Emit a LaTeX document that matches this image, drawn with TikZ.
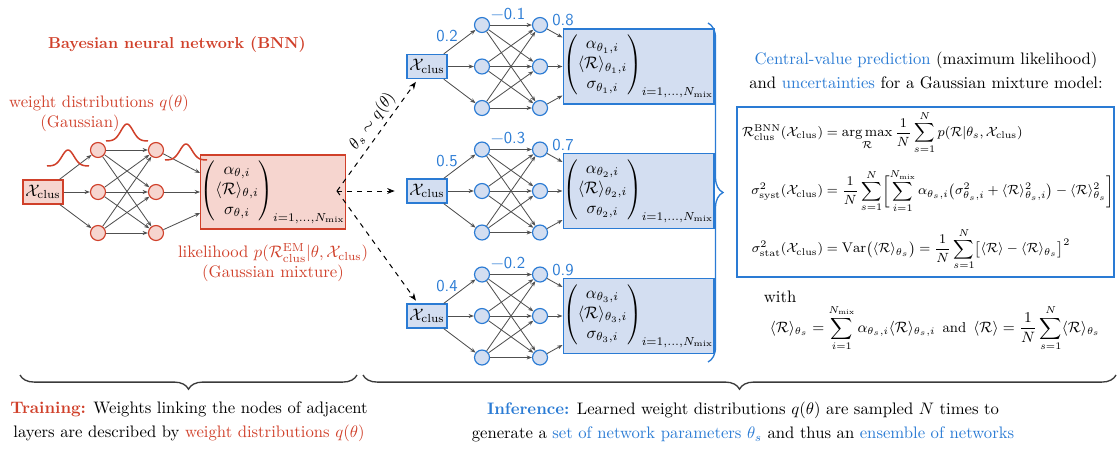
\documentclass[tikz,border=0pt]{standalone}
\usepackage{amsmath}
\usepackage{fontspec}
\usetikzlibrary{arrows.meta,decorations.pathreplacing,calc}
\definecolor{bred}{HTML}{D0402A}
\definecolor{bredfill}{HTML}{F6D5CF}
\definecolor{bblue}{HTML}{2A7BD4}
\definecolor{bbluefill}{HTML}{D3DEF1}
\definecolor{agray}{HTML}{505050}
\definecolor{bracegray}{HTML}{3A3A3A}
\begin{document}
\begin{tikzpicture}[x=0.6pt,y=-0.6pt,
  font=\fontsize{10}{12}\selectfont,
  rnode/.style={circle,draw=bred,fill=bredfill,line width=0.7pt,minimum size=9pt,inner sep=0pt},
  bnode/.style={circle,draw=bblue,fill=bbluefill,line width=0.7pt,minimum size=9pt,inner sep=0pt},
  rin/.style={draw=bred,fill=bredfill,line width=0.8pt,minimum width=24pt,minimum height=14.4pt,inner sep=1pt},
  bin/.style={draw=bblue,fill=bbluefill,line width=0.8pt,minimum width=24pt,minimum height=14.4pt,inner sep=1pt},
  rout/.style={draw=bred,fill=bredfill,line width=0.8pt,minimum width=72pt,minimum height=44.4pt,inner sep=0pt},
  bout/.style={draw=bblue,fill=bbluefill,line width=0.8pt,minimum width=75pt,minimum height=45pt,inner sep=0pt},
  conn/.style={draw=agray,line width=0.5pt,-{Stealth[length=3.2pt,width=2.4pt]}},
  dconn/.style={draw=black,dashed,line width=0.6pt,-{Stealth[length=4.5pt,width=3.5pt]}},
  gauss/.style={draw=bred,line width=0.9pt},
  wlab/.style={text=bblue,font=\sffamily\fontsize{10}{12}\selectfont},
  bbrace/.style={draw=bracegray,line width=0.8pt,decorate},
  eqfont/.style={font=\fontsize{8.4}{10}\selectfont},
]
\useasboundingbox (0,0) rectangle (1118,448);

% ---------------- left: training BNN ----------------
\node[text=bred,font=\bfseries\fontsize{9.5}{12}\selectfont] (title) at (177,45) {Bayesian neural network (BNN)};
\node[text=bred] (wd) at (99,103) {weight distributions $q(\theta)$};
\node[text=bred] (wdg) at (80,123) {(Gaussian)};

\node[rin] (L0) at (43,192) {$\mathcal{X}_\text{clus}$};
\foreach \j/\y in {1/150,2/192,3/233}{
  \node[rnode] (La\j) at (98,\y) {};
  \node[rnode] (Lb\j) at (156,\y) {};
}
\node[rout] (Lo) at (273,192) {$\begin{pmatrix}\alpha_{\theta,i}\\ \langle\mathcal{R}\rangle_{\theta,i}\\ \sigma_{\theta,i}\end{pmatrix}_{i=1,\dots,N_\text{mix}}$};
\coordinate (Lo1) at ($(Lo.west)+(0,-19)$);
\coordinate (Lo2) at (Lo.west);
\coordinate (Lo3) at ($(Lo.west)+(0,21)$);
\foreach \j in {1,2,3}{
  \draw[conn] (L0) -- (La\j);
  \draw[conn] (Lb\j) -- (Lo\j);
  \foreach \k in {1,2,3}{ \draw[conn] (La\j) -- (Lb\k); }
}
% gaussians
\draw[gauss] plot[domain=-3.5:3.5,samples=50] ({68+6*\x},{166-16*exp(-\x*\x/2)});
\draw[gauss] plot[domain=-3.5:3.5,samples=50] ({127+6*\x},{141-17*exp(-\x*\x/2)});
\draw[gauss] plot[domain=-3.5:3.5,samples=50] ({186+6*\x},{160-16*exp(-\x*\x/2)});

\node[text=bred,align=center] (lik) at (273,263) {likelihood $p(\mathcal{R}^\text{EM}_\text{clus}|\theta,\mathcal{X}_\text{clus})$\\(Gaussian mixture)};

% ---------------- middle: inference networks ----------------
\foreach \n/\cy/\wa/\wb/\wc in {1/66.5/0.2/−0.1/0.8, 2/191/0.5/−0.3/0.7, 3/316/0.4/−0.2/0.9}{
  \node[bin] (N\n0) at (427,\cy) {$\mathcal{X}_\text{clus}$};
  \node[bnode] (N\n a1) at (482,\cy-41.5) {};
  \node[bnode] (N\n a2) at (482,\cy) {};
  \node[bnode] (N\n a3) at (482,\cy+41.5) {};
  \node[bnode] (N\n b1) at (540,\cy-41.5) {};
  \node[bnode] (N\n b2) at (540,\cy) {};
  \node[bnode] (N\n b3) at (540,\cy+41.5) {};
  \node[bout] (N\n o) at (638.5,\cy) {$\begin{pmatrix}\alpha_{\theta_{\n},i}\\ \langle\mathcal{R}\rangle_{\theta_{\n},i}\\ \sigma_{\theta_{\n},i}\end{pmatrix}_{i=1,\dots,N_\text{mix}}$};
  \coordinate (N\n o1) at ($(N\n o.west)+(0,-29)$);
  \coordinate (N\n o2) at (N\n o.west);
  \coordinate (N\n o3) at ($(N\n o.west)+(0,29)$);
  \foreach \j in {1,2,3}{
    \draw[conn] (N\n0) -- (N\n a\j);
    \draw[conn] (N\n b\j) -- (N\n o\j);
    \foreach \k in {1,2,3}{ \draw[conn] (N\n a\j) -- (N\n b\k); }
  }
  \node[wlab] (W\n a) at (447,\cy-30) {\wa};
  \node[wlab] (W\n b) at (508,\cy-52.5) {\wb};
  \node[wlab] (W\n c) at (563,\cy-46) {\wc};
}

% sampling arrows
\coordinate (src) at (337,191);
\draw[dconn,shorten >=2pt] (src) -- (N10) node[pos=0.56,above,sloped,inner sep=2pt] {$\theta_s\sim q(\theta)$};
\draw[dconn,shorten >=7pt] (src) -- (N20);
\draw[dconn,shorten >=2pt] (src) -- (N30);

% right brace
\draw[bbrace,draw=bblue,decoration={brace,amplitude=9pt}] (708,23) -- (708,362);

% ---------------- right: formulas ----------------
\node[align=center,font=\fontsize{10}{14.4}\selectfont] (cvp) at (926,70) {\textcolor{bblue}{Central-value prediction} (maximum likelihood)\\and \textcolor{bblue}{uncertainties} for a Gaussian mixture model:};

\node[draw=bblue,line width=1pt,minimum width=226.2pt,minimum height=102pt,inner sep=0pt] (eqbox) at (925.5,192) {};
\node[eqfont] (eqs) at (928,191) {$\displaystyle\begin{aligned}
\mathcal{R}^\text{BNN}_\text{clus}(\mathcal{X}_\text{clus}) &= \mathop{\mathrm{arg\,max}}\limits_{\mathcal{R}}\frac{1}{N}\sum_{s=1}^{N} p(\mathcal{R}|\theta_s,\mathcal{X}_\text{clus})\\[5pt]
\sigma^2_\text{syst}(\mathcal{X}_\text{clus}) &= \frac{1}{N}\sum_{s=1}^{N}\biggl[\sum_{i=1}^{N_\text{mix}}\alpha_{\theta_s,i}\bigl(\sigma^2_{\theta_s,i}+\langle\mathcal{R}\rangle^2_{\theta_s,i}\bigr)-\langle\mathcal{R}\rangle^2_{\theta_s}\biggr]\\[5pt]
\sigma^2_\text{stat}(\mathcal{X}_\text{clus}) &= \mathrm{Var}\bigl(\langle\mathcal{R}\rangle_{\theta_s}\bigr) = \frac{1}{N}\sum_{s=1}^{N}\bigl[\langle\mathcal{R}\rangle-\langle\mathcal{R}\rangle_{\theta_s}\bigr]^2
\end{aligned}$};

\node[anchor=west] (with) at (758,297) {with};
\node[font=\fontsize{8.6}{10}\selectfont] (eqw) at (935,328) {$\displaystyle \langle\mathcal{R}\rangle_{\theta_s} = \sum_{i=1}^{N_\text{mix}}\alpha_{\theta_s,i}\langle\mathcal{R}\rangle_{\theta_s,i}\enspace\text{and}\enspace\langle\mathcal{R}\rangle = \frac{1}{N}\sum_{s=1}^{N}\langle\mathcal{R}\rangle_{\theta_s}$};

% ---------------- bottom braces and captions ----------------
\draw[bbrace,decoration={brace,mirror,amplitude=8.5pt}] (20,375) -- (357,375);
\draw[bbrace,decoration={brace,mirror,amplitude=8.5pt}] (363,375) -- (1116,375);

\node[align=center,font=\fontsize{10}{14.4}\selectfont] (train) at (189,422) {\textcolor{bred}{\textbf{Training:}} Weights linking the nodes of adjacent\\layers are described by \textcolor{bred}{weight distributions $q(\theta)$}};
\node[align=center,font=\fontsize{10}{14.4}\selectfont] (infer) at (743,422) {\textcolor{bblue}{\textbf{Inference:}} Learned weight distributions $q(\theta)$ are sampled $N$ times to\\generate a \textcolor{bblue}{set of network parameters $\theta_s$} and thus an \textcolor{bblue}{ensemble of networks}};
\end{tikzpicture}
\end{document}
